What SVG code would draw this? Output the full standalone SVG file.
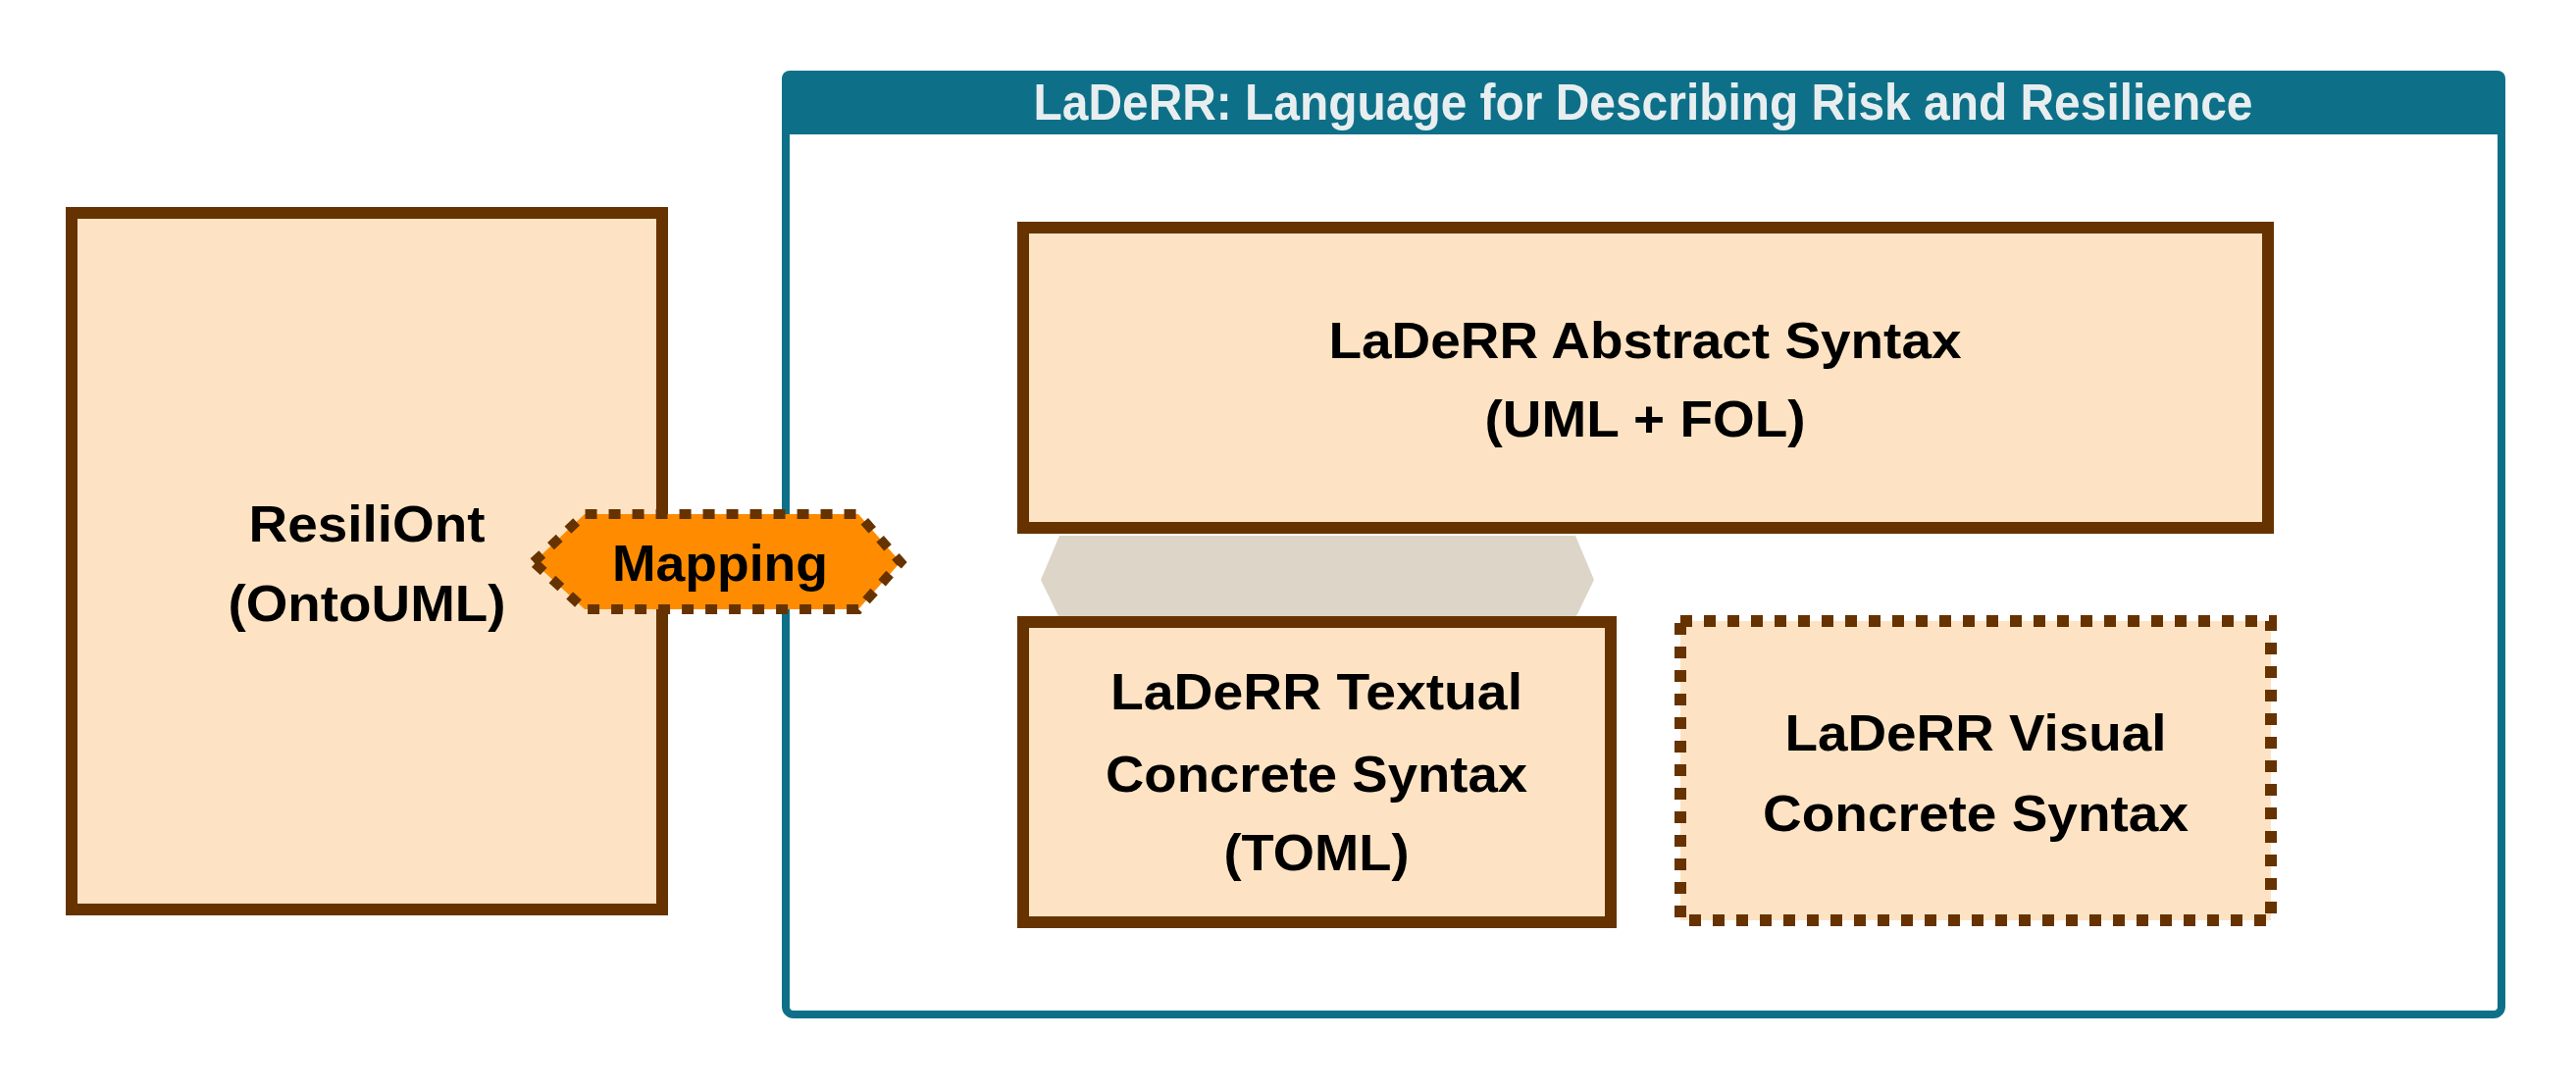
<svg xmlns="http://www.w3.org/2000/svg" width="2626" height="1112" viewBox="0 0 2626 1112">
<style>
.box{fill:#fde3c3;stroke:#663300;stroke-width:12}
.dot{stroke-dasharray:12 12}
text{font-family:"Liberation Sans",Arial,sans-serif;font-weight:bold;font-size:52px;text-anchor:middle;fill:#000}
</style>
<rect width="2626" height="1112" fill="#fff"/>
<g id="container">
<rect x="801" y="76" width="1749" height="958" rx="8" fill="#fff" stroke="#0e7088" stroke-width="8"/>
<path d="M797 137 V80 a8 8 0 0 1 8 -8 H2546 a8 8 0 0 1 8 8 V137 Z" fill="#0e7088"/>
<text x="1675" y="122" font-size="46" fill="#e8eef0" style="fill:#e8eef0" textLength="1243" lengthAdjust="spacingAndGlyphs">LaDeRR: Language for Describing Risk and Resilience</text>
</g>
<g id="connectors">
<polygon points="1061,591 1080,546 1606,546 1625,591 1606,630 1080,630" fill="#ddd5c7"/>
</g>
<g id="resiliont">
<rect class="box" x="73" y="217" width="602" height="710"/>
<text x="374" y="552" textLength="241" lengthAdjust="spacingAndGlyphs">ResiliOnt</text>
<text x="374" y="633" textLength="283" lengthAdjust="spacingAndGlyphs">(OntoUML)</text>
</g>
<g id="abstract">
<rect class="box" x="1043" y="232" width="1269" height="306"/>
<text x="1677" y="365" textLength="645" lengthAdjust="spacingAndGlyphs">LaDeRR Abstract Syntax</text>
<text x="1677" y="445" textLength="327" lengthAdjust="spacingAndGlyphs">(UML + FOL)</text>
</g>
<g id="textual">
<rect class="box" x="1043" y="634" width="599" height="306"/>
<text x="1342" y="723" textLength="420" lengthAdjust="spacingAndGlyphs">LaDeRR Textual</text>
<text x="1342" y="807" textLength="430" lengthAdjust="spacingAndGlyphs">Concrete Syntax</text>
<text x="1342" y="887" textLength="189" lengthAdjust="spacingAndGlyphs">(TOML)</text>
</g>
<g id="visual">
<rect class="box dot" x="1713" y="633" width="602" height="305"/>
<text x="2014" y="765" textLength="389" lengthAdjust="spacingAndGlyphs">LaDeRR Visual</text>
<text x="2014" y="847" textLength="434" lengthAdjust="spacingAndGlyphs">Concrete Syntax</text>
</g>
<g id="mapping">
<polygon class="dot" points="544,573 596,524 875,524 918,573 875,621 596,621" fill="#ff8c00" stroke="#663300" stroke-width="10"/>
<text x="734" y="592" textLength="220" lengthAdjust="spacingAndGlyphs">Mapping</text>
</g>
</svg>
